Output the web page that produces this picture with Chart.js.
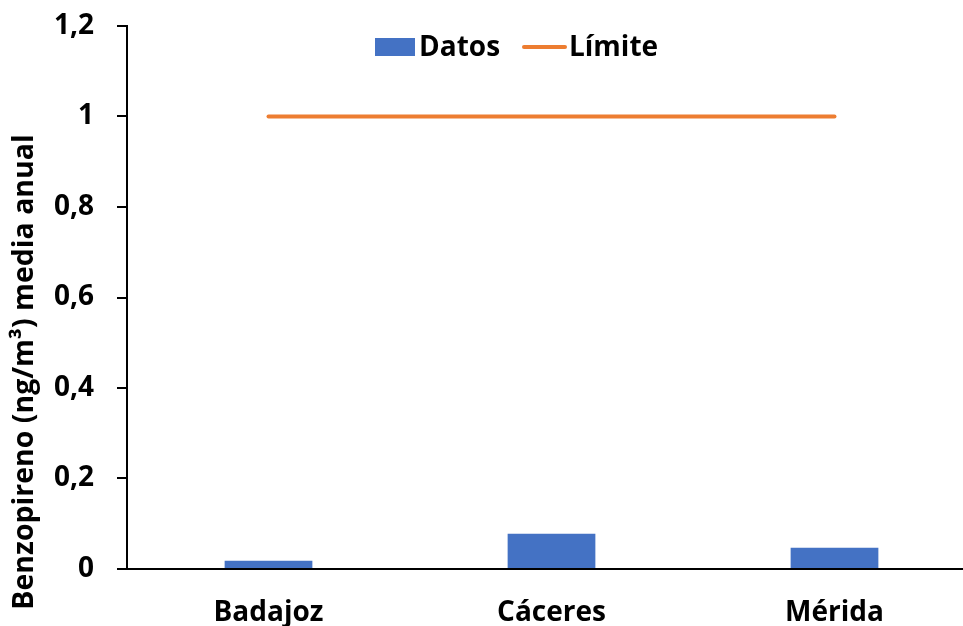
<!DOCTYPE html>
<html>
<head>
<meta charset="utf-8">
<script src="https://cdn.jsdelivr.net/npm/chart.js@4"></script>
<style>
  html, body { margin: 0; padding: 0; background: #fff; overflow: hidden; }
  #caja { width: 990px; height: 626px; }
</style>
</head>
<body>
<div id="caja"><canvas id="grafico"></canvas></div>
<script>
// benzo(a)pireno, media anual por estacion
var ciudades = ['Badajoz', 'Cáceres', 'Mérida'];
var datos = [0.018, 0.078, 0.047];
var limite = [1, 1, 1];
var ticksY = [0, 0.2, 0.4, 0.6, 0.8, 1, 1.2];
var tituloY = 'Benzopireno (ng/m³) media anual';

var fuente = '"Open Sans", "Liberation Sans", sans-serif';

function coma(v) {
    return String(Math.round(v * 10) / 10).replace('.', ',');
}

// leyenda dibujada a mano, sobre el area del grafico
var leyenda = {
    id: 'leyenda',
    afterDraw: function (chart) {
        var ctx = chart.ctx;
        var barras = chart.data.datasets[0];
        var linea = chart.data.datasets[1];
        ctx.save();
        ctx.font = 'bold 28px ' + fuente;
        ctx.textBaseline = 'middle';
        ctx.textAlign = 'left';
        ctx.fillStyle = barras.backgroundColor;
        ctx.fillRect(375, 38, 40, 18);
        ctx.fillStyle = '#000';
        ctx.fillText(barras.label, 419, 48);
        ctx.strokeStyle = linea.borderColor;
        ctx.lineWidth = 4;
        ctx.lineCap = 'round';
        ctx.beginPath();
        ctx.moveTo(524, 47);
        ctx.lineTo(565, 47);
        ctx.stroke();
        ctx.fillText(linea.label, 569, 48);
        ctx.restore();
    }
};

// titulo del eje Y
var tituloEje = {
    id: 'tituloEje',
    afterDraw: function (chart) {
        var ctx = chart.ctx;
        ctx.save();
        ctx.font = 'bold 28.5px ' + fuente;
        ctx.fillStyle = '#000';
        ctx.textAlign = 'center';
        ctx.textBaseline = 'middle';
        ctx.translate(25, 372);
        ctx.rotate(-Math.PI / 2);
        ctx.fillText(tituloY, 0, 0);
        ctx.restore();
    }
};

var ctx = document.getElementById('grafico').getContext('2d');
var grafico = new Chart(ctx, {
    type: 'bar',
    data: {
        labels: ciudades,
        datasets: [
            {
                label: 'Datos',
                data: datos,
                backgroundColor: '#4472C4',
                borderWidth: 0,
                categoryPercentage: 1,
                barPercentage: 0.31,
                order: 2
            },
            {
                type: 'line',
                label: 'Límite',
                data: limite,
                borderColor: '#ED7D31',
                backgroundColor: '#ED7D31',
                borderWidth: 4,
                borderCapStyle: 'round',
                pointRadius: 0,
                fill: false,
                order: 1
            }
        ]
    },
    options: {
        responsive: true,
        maintainAspectRatio: false,
        animation: false,
        layout: { padding: { top: 26, right: 14, bottom: 0, left: 0 } },
        plugins: {
            legend: { display: false },
            tooltip: { enabled: false }
        },
        scales: {
            x: {
                afterFit: function (s) { s.height = 57; },
                grid: { display: false, drawTicks: false },
                border: { display: true, color: '#000', width: 2 },
                ticks: {
                    padding: 27,
                    color: '#000',
                    font: { family: fuente, size: 28, weight: 'bold' }
                }
            },
            y: {
                min: 0,
                max: 1.2,
                afterFit: function (s) {
                    s.width = 127;
                    s.paddingTop = 0;
                    s.paddingBottom = 0;
                },
                afterBuildTicks: function (s) {
                    s.ticks = ticksY.map(function (v) { return { value: v }; });
                },
                grid: {
                    display: true,
                    drawOnChartArea: false,
                    drawTicks: true,
                    tickLength: 10,
                    color: '#000',
                    lineWidth: 2
                },
                border: { display: true, color: '#000', width: 2 },
                ticks: {
                    padding: 23,
                    color: '#000',
                    font: { family: fuente, size: 28, weight: 'bold' },
                    callback: function (v) { return coma(v); }
                }
            }
        }
    },
    plugins: [leyenda, tituloEje]
});
</script>
</body>
</html>
